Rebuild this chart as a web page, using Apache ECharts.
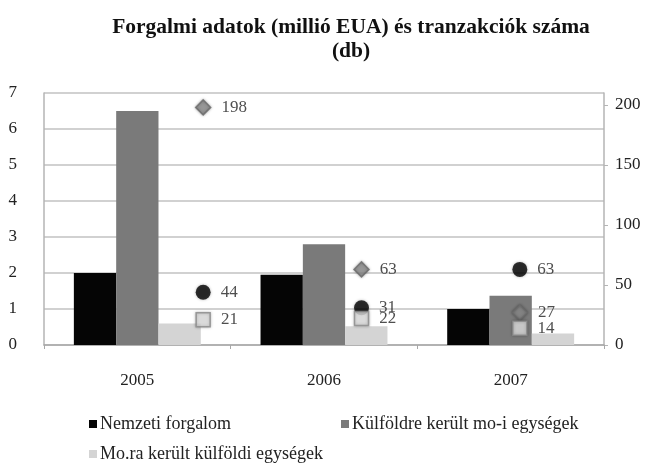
<!DOCTYPE html>
<html>
<head>
<meta charset="utf-8">
<script src="https://cdn.jsdelivr.net/npm/echarts@6/dist/echarts.min.js"></script>
<style>
  html, body { margin: 0; padding: 0; background: #fff; }
  #chart { width: 650px; height: 463px; }
</style>
</head>
<body>
<div id="chart"></div>
<script>
// years on the x axis
const years = ["2005", "2006", "2007"];

// turnover, million EUA (left axis)
const nemzeti = [2.0, 1.95, 1.0];
const kulfoldre = [6.5, 2.8, 1.37];
const mora = [0.6, 0.52, 0.32];

// number of transactions (right axis)
const txKulfoldre = [198, 63, 27];
const txNemzeti = [44, 31, 63];
const txMora = [21, 22, 14];

const leftTicks = [0, 1, 2, 3, 4, 5, 6, 7];
const rightTicks = [0, 50, 100, 150, 200];

const serif = "'Liberation Serif', 'DejaVu Serif', serif";

let chart = echarts.init(document.getElementById("chart"));

let pointLabel = {
    show: true,
    position: "right",
    distance: 10,
    color: "#222",
    fontFamily: serif,
    fontSize: 17,
    formatter: (p) => p.value,
};

chart.setOption({
    animation: false,
    title: {
        text: "Forgalmi adatok (millió EUA) és tranzakciók száma\n(db)",
        left: 346,
        textAlign: "center",
        top: 10,
        textStyle: {
            fontFamily: serif,
            fontSize: 21.5,
            fontWeight: "bold",
            color: "#111",
            lineHeight: 24,
        },
    },
    legend: [
        {
            data: ["Nemzeti forgalom"],
            left: 84,
            top: 410,
        },
        {
            data: ["Külföldre került mo-i egységek"],
            left: 336,
            top: 410,
        },
        {
            data: ["Mo.ra került külföldi egységek"],
            left: 84,
            top: 440,
        },
    ].map((l) => ({
        ...l,
        icon: "rect",
        itemWidth: 8,
        itemHeight: 8,
        itemGap: 4,
        textStyle: { fontFamily: serif, fontSize: 18, color: "#222", padding: [0, 0, 0, -2] },
    })),
    grid: [
        { left: 44, right: 46, top: 93, bottom: 118 },
        { left: 124, right: 51, top: 93, bottom: 118 },
    ],
    xAxis: [
        {
            type: "category",
            gridIndex: 0,
            data: years,
            axisLine: { lineStyle: { color: "#a8a8a8", width: 1.5 } },
            axisTick: { show: true, length: 4, lineStyle: { color: "#a8a8a8" } },
            axisLabel: { margin: 27, fontFamily: serif, fontSize: 17, color: "#222" },
        },
        {
            type: "category",
            gridIndex: 1,
            data: years,
            show: false,
        },
    ],
    yAxis: [
        {
            type: "value",
            gridIndex: 0,
            min: 0,
            max: 7,
            interval: 1,
            axisLine: { show: true, lineStyle: { color: "#b5b5b5", width: 1.5 } },
            axisTick: { show: false },
            splitLine: { lineStyle: { color: "#c2c2c2", width: 1.5 } },
            axisLabel: {
                margin: 27,
                fontFamily: serif,
                fontSize: 17,
                color: "#222",
                formatter: (v) => (leftTicks.includes(v) ? v : ""),
            },
        },
        {
            type: "value",
            gridIndex: 0,
            position: "right",
            min: 0,
            max: 210,
            interval: 50,
            axisLine: { show: true, lineStyle: { color: "#b5b5b5", width: 1.5 } },
            axisTick: { show: true, length: 4, lineStyle: { color: "#b5b5b5" } },
            splitLine: { show: false },
            axisLabel: {
                margin: 11,
                fontFamily: serif,
                fontSize: 17,
                color: "#222",
                showMaxLabel: false,
                formatter: (v) => (rightTicks.includes(v) ? v : ""),
            },
        },
        {
            type: "value",
            gridIndex: 1,
            min: 0,
            max: 210,
            show: false,
        },
    ],
    series: [
        {
            name: "Nemzeti forgalom",
            type: "bar",
            data: nemzeti,
            barGap: "0%",
            barCategoryGap: "32%",
            itemStyle: { color: "#050505" },
        },
        {
            name: "Külföldre került mo-i egységek",
            type: "bar",
            data: kulfoldre,
            itemStyle: { color: "#7a7a7a" },
        },
        {
            name: "Mo.ra került külföldi egységek",
            type: "bar",
            data: mora,
            itemStyle: { color: "#d4d4d4" },
        },
        {
            name: "tx külföldre",
            type: "scatter",
            xAxisIndex: 1,
            yAxisIndex: 2,
            data: txKulfoldre,
            symbol: "diamond",
            symbolSize: 15,
            itemStyle: {
                color: "#8e8e8e",
                borderColor: "#6a6a6a",
                borderWidth: 1.5,
                shadowBlur: 3,
                shadowColor: "rgba(0,0,0,0.35)",
            },
            label: pointLabel,
            z: 5,
        },
        {
            name: "tx nemzeti",
            type: "scatter",
            xAxisIndex: 1,
            yAxisIndex: 2,
            data: txNemzeti,
            symbol: "circle",
            symbolSize: 15,
            itemStyle: {
                color: "#000",
                shadowBlur: 3,
                shadowColor: "rgba(0,0,0,0.35)",
            },
            label: pointLabel,
            z: 5,
        },
        {
            name: "tx mo.ra",
            type: "scatter",
            xAxisIndex: 1,
            yAxisIndex: 2,
            data: txMora,
            symbol: "rect",
            symbolSize: 14,
            itemStyle: {
                color: "#e2e2e2",
                borderColor: "#8a8a8a",
                borderWidth: 1.5,
                shadowBlur: 3,
                shadowColor: "rgba(0,0,0,0.35)",
            },
            label: pointLabel,
            z: 5,
        },
    ],
});
</script>
</body>
</html>
